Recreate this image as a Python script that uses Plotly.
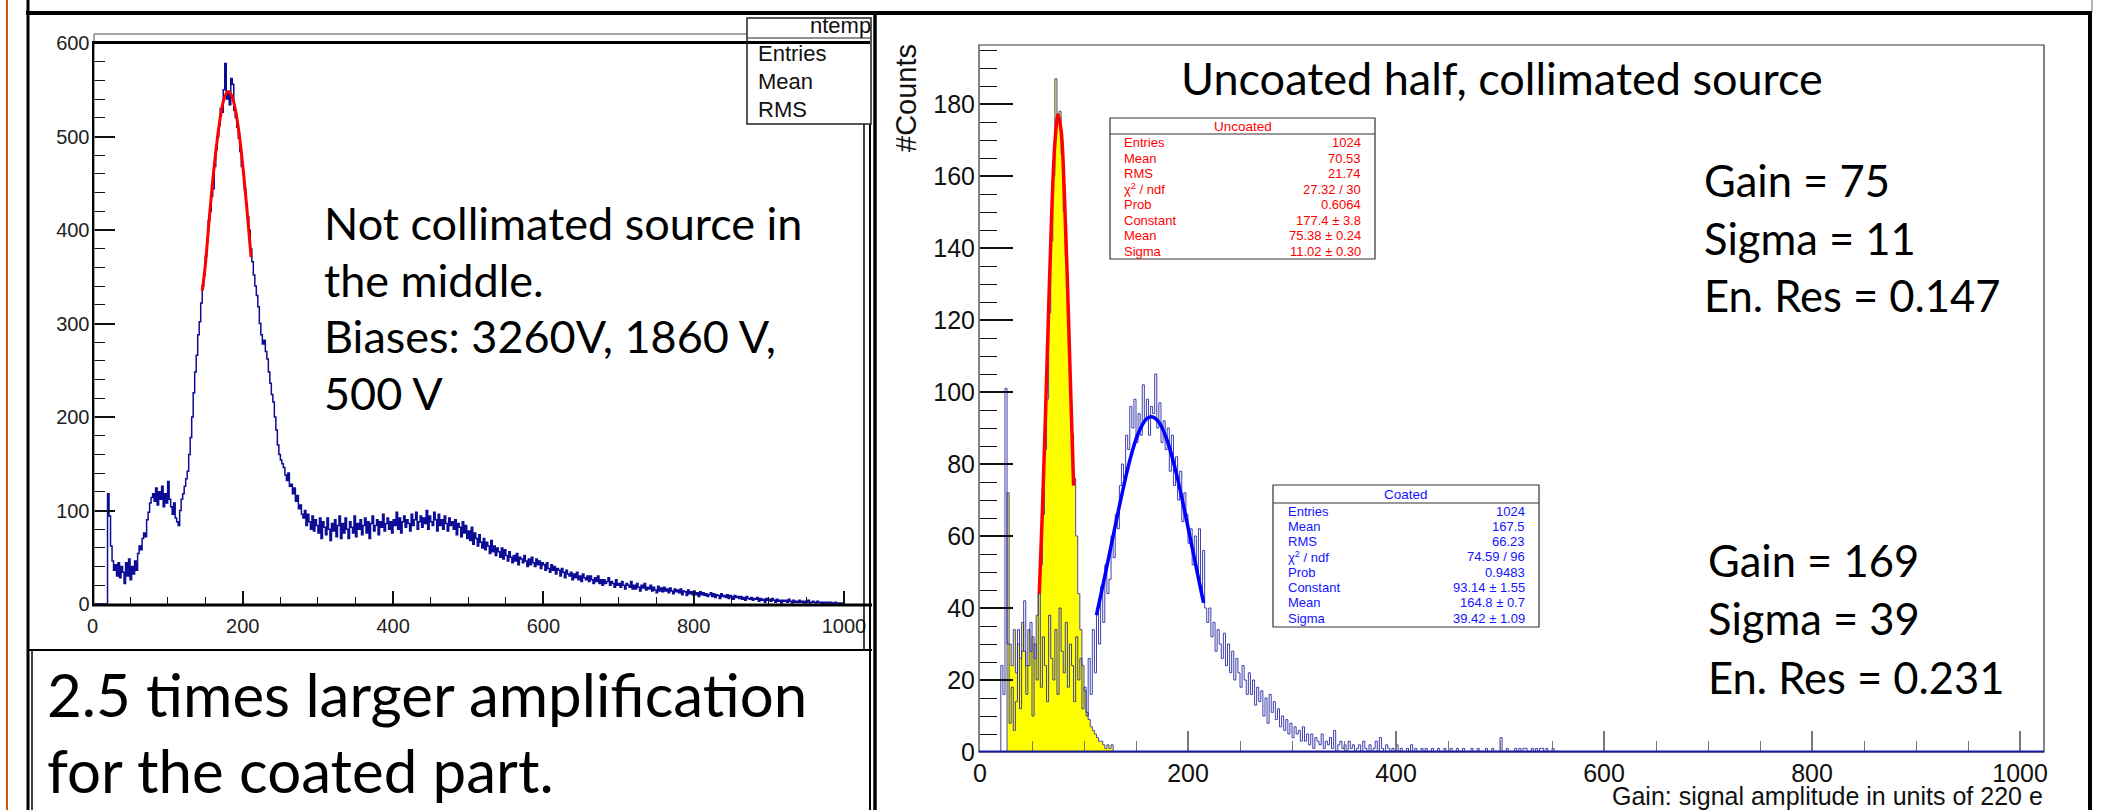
import plotly.graph_objects as go

W, H = 2110, 810

# ---------------- data ----------------
LEFT_BIN_START = 0
LEFT_BIN_WIDTH = 2
LEFT_COUNTS = [
    0, 0, 0, 0, 0, 0, 0, 0, 0, 0,
    118, 94, 62, 46, 36, 42, 30, 44, 28, 40,
    34, 22, 44, 30, 48, 26, 40, 32, 46, 36,
    54, 62, 58, 70, 76, 72, 90, 98, 108, 114,
    118, 110, 124, 106, 120, 112, 126, 104, 118, 108,
    131, 112, 104, 96, 108, 92, 88, 84, 100, 112,
    118, 126, 134, 142, 160, 178, 200, 226, 248, 266,
    288, 302, 322, 340, 352, 372, 388, 410, 420, 436,
    444, 468, 486, 500, 512, 530, 526, 550, 578, 540,
    548, 534, 562, 556, 528, 520, 510, 498, 484, 468,
    460, 444, 428, 414, 400, 380, 366, 352, 340, 330,
    318, 300, 288, 278, 282, 270, 262, 248, 236, 224,
    216, 200, 186, 170, 160, 154, 150, 146, 138, 132,
    140, 126, 128, 118, 124, 110, 116, 102, 106, 96,
    92, 100, 84, 96, 88, 80, 94, 78, 90, 84,
    76, 92, 70, 88, 82, 74, 92, 80, 68, 86,
    78, 90, 72, 84, 94, 70, 86, 76, 92, 80,
    70, 88, 82, 76, 94, 72, 86, 80, 90, 74,
    84, 92, 76, 88, 70, 86, 94, 78, 84, 90,
    74, 88, 82, 96, 78, 86, 92, 80, 88, 76,
    90, 84, 98, 80, 92, 76, 88, 94, 82, 90,
    86, 78, 96, 84, 90, 98, 80, 88, 94, 82,
    92, 86, 100, 80, 94, 88, 84, 98, 90, 78,
    96, 84, 90, 80, 94, 86, 78, 92, 84, 88,
    80, 90, 74, 86, 82, 72, 88, 76, 84, 70,
    78, 68, 82, 64, 76, 70, 62, 74, 66, 60,
    70, 58, 66, 62, 54, 68, 56, 62, 52, 60,
    56, 50, 60, 48, 58, 52, 46, 56, 50, 44,
    52, 46, 54, 42, 50, 48, 44, 52, 46, 40,
    48, 42, 50, 44, 40, 48, 42, 46, 38, 44,
    42, 36, 44, 38, 34, 42, 36, 40, 32, 38,
    36, 30, 38, 34, 28, 36, 32, 30, 34, 26,
    32, 28, 34, 26, 30, 24, 32, 28, 26, 30,
    24, 30, 26, 22, 28, 24, 30, 22, 26, 20,
    26, 22, 24, 28, 20, 24, 22, 18, 26, 20,
    22, 18, 24, 20, 16, 22, 20, 18, 24, 16,
    20, 16, 22, 18, 14, 20, 17, 22, 15, 18,
    16, 20, 14, 18, 15, 12, 19, 14, 17, 13,
    18, 14, 16, 12, 17, 14, 11, 16, 13, 15,
    12, 16, 10, 14, 13, 9, 15, 11, 13, 10,
    14, 10, 12, 8, 13, 10, 12, 9, 11, 8,
    10, 12, 8, 11, 7, 10, 9, 6, 11, 8,
    9, 7, 10, 6, 9, 8, 5, 9, 7, 8,
    6, 8, 5, 7, 4, 8, 6, 5, 7, 4,
    6, 5, 7, 3, 6, 4, 5, 2, 6, 4,
    5, 3, 6, 4, 2, 5, 3, 4, 1, 4,
    3, 4, 2, 5, 3, 1, 4, 2, 3, 2,
    4, 2, 3, 1, 3, 2, 4, 1, 2, 3,
    2, 1, 3, 2, 1, 2, 0, 2, 1, 2,
    1, 2, 1, 0, 2, 1, 1, 0, 1, 0,
]
LEFT_FIT_X = [146, 150, 155, 160, 165, 170, 175, 180, 185, 190, 195, 200, 205, 211]
LEFT_FIT_Y = [335, 361, 409, 453, 490, 520, 540, 548, 544, 529, 504, 469, 427, 371]

UNCOATED_BIN_START = 26
UNCOATED_BIN_WIDTH = 2
UNCOATED_COUNTS = [
    72, 30, 24, 34, 22, 30, 26, 36, 28, 24,
    34, 28, 32, 26, 38, 44, 52, 66, 84, 98,
    122, 142, 160, 187, 176, 178, 166, 150, 138, 124,
    104, 88, 76, 60, 44, 34, 24, 17, 11, 9,
    7, 6, 5, 4, 3, 3, 2, 1, 2, 1, 2, 0,
]
COATED_BIN_START = 18
COATED_BIN_WIDTH = 2
COATED_COUNTS = [
    0, 24, 16, 101, 30, 8, 18, 6, 14, 34,
    12, 28, 42, 16, 24, 36, 10, 30, 20, 44,
    18, 32, 24, 14, 38, 26, 20, 34, 16, 40,
    28, 22, 36, 18, 30, 24, 14, 32, 20, 26,
    12, 18, 10, 26, 16, 34, 22, 40, 30, 46,
    36, 52, 44, 48, 60, 54, 66, 62, 74, 80,
    76, 88, 84, 96, 90, 98, 86, 94, 88, 102,
    92, 98, 88, 96, 94, 105, 90, 97, 86, 92,
    84, 90, 78, 88, 74, 82, 70, 78, 64, 72,
    66, 58, 62, 52, 60, 50, 62, 44, 56, 40,
    36, 40, 32, 36, 28, 34, 30, 26, 33, 24,
    30, 22, 28, 20, 26, 22, 18, 24, 20, 16,
    22, 16, 20, 13, 18, 14, 17, 10, 15, 8,
    16, 11, 14, 9, 12, 7, 10, 6, 9, 5,
    8, 4, 7, 5, 6, 3, 7, 3, 5, 2,
    5, 1, 4, 3, 2, 5, 1, 3, 2, 4,
    1, 6, 0, 2, 3, 1, 2, 0, 3, 1,
    2, 0, 1, 2, 0, 3, 1, 0, 2, 0,
    1, 3, 0, 4, 1, 0, 2, 1, 0, 1,
    0, 2, 0, 1, 0, 0, 1, 0, 2, 0,
    1, 0, 0, 1, 0, 1, 0, 0, 1, 0,
    0, 1, 0, 0, 1, 0, 0, 1, 0, 0,
    1, 0, 0, 1, 0, 0, 0, 1, 0, 0,
    1, 0, 0, 0, 1, 0, 0, 1, 0, 0,
    0, 4, 0, 0, 1, 0, 0, 0, 1, 0,
    1, 0, 1, 1, 0, 0, 1, 0, 1, 0,
    1, 1, 0, 1, 0, 0, 1, 0, 0, 0,
]
UNCOATED_FIT_X = [57, 60, 63, 66, 69, 72, 75, 78, 81, 84, 87, 90]
UNCOATED_FIT_Y = [44, 67, 94, 123, 150, 169, 177, 172.6, 156, 131, 102, 74]
COATED_FIT_X = [112, 120, 128, 136, 144, 152, 160, 165, 172, 180, 188, 196, 204, 212, 215]
COATED_FIT_Y = [38, 48.8, 60, 71, 81, 88.4, 92.5, 93.1, 91.6, 86.5, 78.3, 68, 56.8, 45.5, 41.4]

LEFT_X_RANGE = [0, 1024]
LEFT_Y_RANGE = [0, 600]
RIGHT_X_RANGE = [0, 1024]
RIGHT_Y_RANGE = [0, 196.4]

UNCOATED_STATS = [
    ("Entries", "1024"), ("Mean", "70.53"), ("RMS", "21.74"),
    ("χ<sup>2</sup> / ndf", "27.32 / 30"), ("Prob", "0.6064"),
    ("Constant", "177.4 ± 3.8"), ("Mean", "75.38 ± 0.24"), ("Sigma", "11.02 ± 0.30"),
]
COATED_STATS = [
    ("Entries", "1024"), ("Mean", "167.5"), ("RMS", "66.23"),
    ("χ<sup>2</sup> / ndf", "74.59 / 96"), ("Prob", "0.9483"),
    ("Constant", "93.14 ± 1.55"), ("Mean", "164.8 ± 0.7"), ("Sigma", "39.42 ± 1.09"),
]
LEFT_STATS_LABELS = ["Entries", "Mean", "RMS"]

# ---------------- helpers ----------------
def px(x):
    return x / W

def py(y):
    return 1 - y / H

def step_xy(start, width, counts):
    edges = [start + width * i for i in range(len(counts) + 1)]
    xs = [edges[0]] + edges[:-1] + [edges[-1]]
    ys = [0] + list(counts) + [0]
    return xs, ys

shapes = []
annotations = []

def line(x0, y0, x1, y1, color="black", width=1.0):
    shapes.append(dict(type="line", xref="paper", yref="paper",
                       x0=px(x0), y0=py(y0), x1=px(x1), y1=py(y1),
                       line=dict(color=color, width=width), layer="above"))

def rect(x0, y0, x1, y1, color="black", width=1.0, fill=None):
    shapes.append(dict(type="rect", xref="paper", yref="paper",
                       x0=px(x0), y0=py(y0), x1=px(x1), y1=py(y1),
                       line=dict(color=color, width=width),
                       fillcolor=fill if fill else "rgba(0,0,0,0)", layer="above"))

def text(t, x, y, size, color="black", family="Lato", xanchor="left", yanchor="middle", angle=0):
    annotations.append(dict(text=t, xref="paper", yref="paper", x=px(x), y=py(y),
                            xanchor=xanchor, yanchor=yanchor, showarrow=False,
                            borderpad=0, textangle=angle,
                            font=dict(size=size, color=color, family=family)))

# ---------------- traces ----------------
fig = go.Figure()

lx, ly = step_xy(LEFT_BIN_START, LEFT_BIN_WIDTH, LEFT_COUNTS)
fig.add_trace(go.Scatter(x=lx, y=ly, mode="lines", line=dict(color="#0c0c96", width=1.5, shape="hv"),
                         xaxis="x", yaxis="y", hoverinfo="skip", showlegend=False))
fig.add_trace(go.Scatter(x=LEFT_FIT_X, y=LEFT_FIT_Y, mode="lines",
                         line=dict(color="#ff0000", width=3, shape="spline"),
                         xaxis="x", yaxis="y", hoverinfo="skip", showlegend=False))

ux, uy = step_xy(UNCOATED_BIN_START, UNCOATED_BIN_WIDTH, UNCOATED_COUNTS)
fig.add_trace(go.Scatter(x=ux, y=uy, mode="lines", fill="tozeroy", fillcolor="#ffff00",
                         line=dict(color="#4646b4", width=1, shape="hv"),
                         xaxis="x2", yaxis="y2", hoverinfo="skip", showlegend=False))
cx, cy = step_xy(COATED_BIN_START, COATED_BIN_WIDTH, COATED_COUNTS)
fig.add_trace(go.Scatter(x=cx, y=cy, mode="lines", line=dict(color="#2a2aa6", width=0.9, shape="hv"),
                         xaxis="x2", yaxis="y2", hoverinfo="skip", showlegend=False))
fig.add_trace(go.Scatter(x=UNCOATED_FIT_X, y=UNCOATED_FIT_Y, mode="lines",
                         line=dict(color="#ff0000", width=3.5, shape="spline"),
                         xaxis="x2", yaxis="y2", hoverinfo="skip", showlegend=False))
fig.add_trace(go.Scatter(x=COATED_FIT_X, y=COATED_FIT_Y, mode="lines",
                         line=dict(color="#0000ff", width=3.5, shape="spline"),
                         xaxis="x2", yaxis="y2", hoverinfo="skip", showlegend=False))

# ---------------- frames / slide lines ----------------
line(7, 0, 7, 810, color="#c55a11", width=2)
line(28, 0, 28, 810, width=3)
line(32, 650, 32, 810, width=1.5)
line(26, 13, 2092, 13, width=4)
line(2092, 0, 2092, 12, color="#666", width=1)
line(875, 13, 875, 810, width=3.5)
line(2090, 13, 2090, 810, width=4)

# left plot frame
line(94, 34, 747, 34, color="#888", width=1.5)
line(94, 34, 94, 605, color="#888", width=1.5)
line(92, 42.5, 870, 42.5, width=3)
line(93, 42, 93, 605, width=2)
line(92, 605, 872, 605, width=3)
line(864, 42, 864, 650, width=1.5)
line(870, 124, 870, 810, width=2)
line(28, 650, 872, 650, width=2)
# left stats box
rect(747, 18, 871, 124, color="#222", width=1.5, fill="white")
line(747, 38, 871, 38, color="#222", width=1.2)
line(747, 42.5, 870, 42.5, width=3)

# right plot frame
rect(979, 45, 2044, 752, color="#333", width=1.2)
line(979, 751.5, 2044, 751.5, color="#1a1a9e", width=2)

# stats boxes
def stats_box(x0, y0, x1, y1, ydiv, title, rows, row_first, row_last, lx, rx, color):
    rect(x0, y0, x1, y1, color="#333", width=1.2, fill="white")
    line(x0, ydiv, x1, ydiv, color="#333", width=1.2)
    text(title, (x0 + x1) / 2, (y0 + ydiv) / 2 + 0.5, 13.5, color=color, family="Liberation Sans", xanchor="center")
    n = len(rows)
    for i, (lab, val) in enumerate(rows):
        yy = row_first + (row_last - row_first) * i / (n - 1)
        text(lab, lx, yy, 13, color=color, family="Liberation Sans", xanchor="left")
        text(val, rx, yy, 13, color=color, family="Liberation Sans", xanchor="right")

stats_box(1110, 118, 1375, 259, 134, "Uncoated", UNCOATED_STATS, 143, 251, 1123, 1362, "#ff0000")
stats_box(1273, 485, 1539, 627, 503, "Coated", COATED_STATS, 511, 618, 1287, 1526, "#1414ff")

# left stats box text
text("ntemp", 872, 25, 22, color="#111", family="Liberation Sans", xanchor="right")
for lab, yy in zip(LEFT_STATS_LABELS, [53, 82, 110]):
    text(lab, 757, yy, 22, color="#111", family="Liberation Sans")

# slide texts
L1 = 45
L1R = 43.5
L2 = 60
for t, yy in zip(["Not collimated source in", "the middle.", "Biases: 3260V, 1860 V,", "500 V"],
                 [223, 280, 336, 393]):
    text(t, 323, yy, L1)
text("2.5 times larger amplification", 46, 694, L2)
text("for the coated part.", 46, 770, L2)
text("Uncoated half, collimated source", 1180, 78, L1)
for t, yy in zip(["Gain = 75", "Sigma = 11", "En. Res = 0.147"], [180, 238, 295]):
    text(t, 1703, yy, L1R)
for t, yy in zip(["Gain = 169", "Sigma = 39", "En. Res = 0.231"], [560, 618, 677]):
    text(t, 1707, yy, L1R)

# axis titles
text("#Counts", 906, 43, 29, color="#111", family="Liberation Sans", xanchor="center", yanchor="top", angle=-90)
text("Gain: signal amplitude in units of 220 e", 2044, 796, 25, color="#111",
     family="Liberation Sans", xanchor="right")

# ---------------- layout ----------------
tickfont_l = dict(family="Liberation Sans", size=20, color="#222")
tickfont_r = dict(family="Liberation Sans", size=25, color="#111")

fig.update_layout(
    width=W, height=H, autosize=False,
    margin=dict(l=0, r=0, t=0, b=0, pad=0, autoexpand=False),
    paper_bgcolor="white", plot_bgcolor="rgba(0,0,0,0)",
    showlegend=False,
    xaxis=dict(domain=[px(92.5), px(862)], range=LEFT_X_RANGE, showgrid=False, zeroline=False,
               showline=False, ticks="inside", tickmode="linear", tick0=0, dtick=200,
               ticklen=13, tickwidth=1.5, tickcolor="#111", tickfont=tickfont_l,
               ticklabelstandoff=8, anchor="y", automargin=False,
               minor=dict(ticks="inside", dtick=50, tick0=0, ticklen=7, tickwidth=1.2,
                          tickcolor="#111", showgrid=False)),
    yaxis=dict(domain=[py(604), py(43)], range=LEFT_Y_RANGE, showgrid=False, zeroline=False,
               showline=False, ticks="inside", tickmode="linear", tick0=0, dtick=100,
               ticklen=22, tickwidth=1.5, tickcolor="#111", tickfont=tickfont_l,
               ticklabelstandoff=2, anchor="x", automargin=False,
               minor=dict(ticks="inside", dtick=20, tick0=0, ticklen=12, tickwidth=1.2,
                          tickcolor="#111", showgrid=False)),
    xaxis2=dict(domain=[px(980), px(2045)], range=RIGHT_X_RANGE, showgrid=False, zeroline=False,
                showline=False, ticks="inside", tickmode="linear", tick0=0, dtick=200,
                ticklen=21, tickwidth=1.5, tickcolor="#777", tickfont=tickfont_r,
                ticklabelstandoff=4, anchor="y2", automargin=False,
                minor=dict(ticks="inside", dtick=50, tick0=0, ticklen=11, tickwidth=1.2,
                           tickcolor="#777", showgrid=False)),
    yaxis2=dict(domain=[py(752), py(45)], range=RIGHT_Y_RANGE, showgrid=False, zeroline=False,
                showline=False, ticks="inside", tickmode="linear", tick0=0, dtick=20,
                ticklen=33, tickwidth=1.5, tickcolor="#111", tickfont=tickfont_r,
                ticklabelstandoff=4, anchor="x2", automargin=False,
                minor=dict(ticks="inside", dtick=5, tick0=0, ticklen=17, tickwidth=1.2,
                           tickcolor="#111", showgrid=False)),
    shapes=shapes,
    annotations=annotations,
)

fig.write_html("out.html",
               config={"displayModeBar": False, "responsive": False},
               post_script="document.body.style.margin='0';document.body.style.overflow='hidden';")
